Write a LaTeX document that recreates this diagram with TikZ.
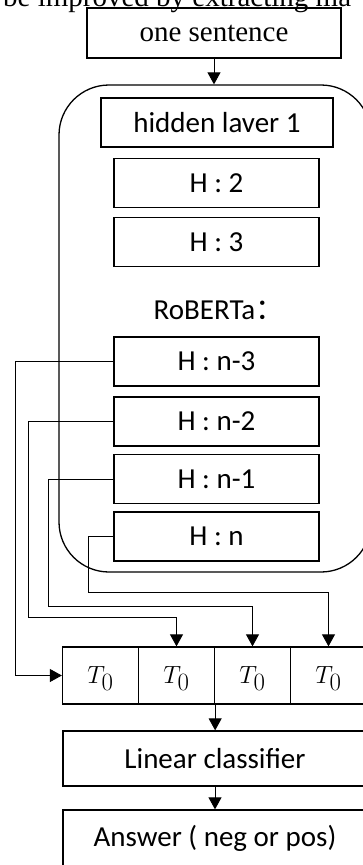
\documentclass[tikz,border=0pt]{standalone}
\usepackage{fontspec}
\setmainfont{Carlito}
\newfontfamily\timesfont{Liberation Serif}
\newfontfamily\cjk{Noto Sans CJK SC}
\usetikzlibrary{arrows.meta}

\tikzset{
  box/.style={draw, line width=1.3pt, inner sep=0pt, font=\fontsize{29}{34}\selectfont},
  hbox/.style={box, minimum width=205pt, minimum height=49pt},
  cell/.style={box, minimum width=76pt, minimum height=57pt},
  token/.style={inner sep=0pt, font=\fontsize{34}{40}\selectfont, yshift=-3pt},
  wire/.style={line width=0.9pt},
  flow/.style={wire, -{Triangle[width=13pt,length=12pt]}}
}

\begin{document}
\begin{tikzpicture}[x=1pt, y=-1pt]
  \useasboundingbox (0,0) rectangle (363,865);
  \clip (0,0) rectangle (363,865);

  % running text of the page above the figure
  \node[anchor=base west, inner sep=0pt, font=\timesfont\fontsize{29}{34}\selectfont]
    (runin) at (3,6) {be improved by extracting ma};

  % input
  \node[box, minimum width=254pt, minimum height=50pt, font=\timesfont\fontsize{29}{34}\selectfont]
    (sent) at (214,33) {one sentence};

  % encoder frame
  \node[draw, line width=1.3pt, rounded corners=50pt, minimum width=312pt, minimum height=487pt]
    (enc) at (215,328.5) {};

  % layers
  \node[box, minimum width=232pt, minimum height=49pt] (h1) at (217,122.5) {hidden laver 1};
  \node[hbox] (h2)  at (216.5,183)   {H : 2};
  \node[hbox] (h3)  at (216.5,242)   {H : 3};
  \node[font=\fontsize{29}{34}\selectfont] (rob) at (219,310) {RoBERTa{\cjk ：}};
  \node[hbox] (hn3) at (216.5,361.5) {H : n-3};
  \node[hbox] (hn2) at (216.5,421.5) {H : n-2};
  \node[hbox] (hn1) at (216.5,479)   {H : n-1};
  \node[hbox] (hn)  at (216.5,536.5) {H : n};

  % concatenated token vectors
  \node[cell] (t1) at (100.5,675.5) {};
  \node[cell] (t2) at (176.5,675.5) {};
  \node[cell] (t3) at (252.5,675.5) {};
  \node[cell] (t4) at (328.5,675.5) {};
  \foreach \c in {t1,t2,t3,t4}
    \node[token] at (\c) {$T_0$};

  % head
  \node[box, minimum width=304pt, minimum height=55pt] (lin) at (215,758.5) {Linear classifier};
  \node[box, minimum width=304pt, minimum height=56pt] (ans) at (215,838) {Answer ( neg or pos)};

  % main flow
  \draw[flow] (sent.south) -- (sent.south |- enc.north);
  \draw[flow] (t2.south east) -- (t2.south east |- lin.north);
  \draw[flow] (lin.south) -- (ans.north);

  % last four layers to the cells
  \draw[flow] (hn3.west) -- (15,361.5) |- (t1.west);
  \draw[flow] (hn2.west) -- (28,421.5) -- (28,617) -| (t2.north);
  \draw[flow] (hn1.west) -- (48,479) -- (48,606) -| (t3.north);
  \draw[flow] (hn.west)  -- (88,536.5) -- (88,592) -| (t4.north);
\end{tikzpicture}
\end{document}
